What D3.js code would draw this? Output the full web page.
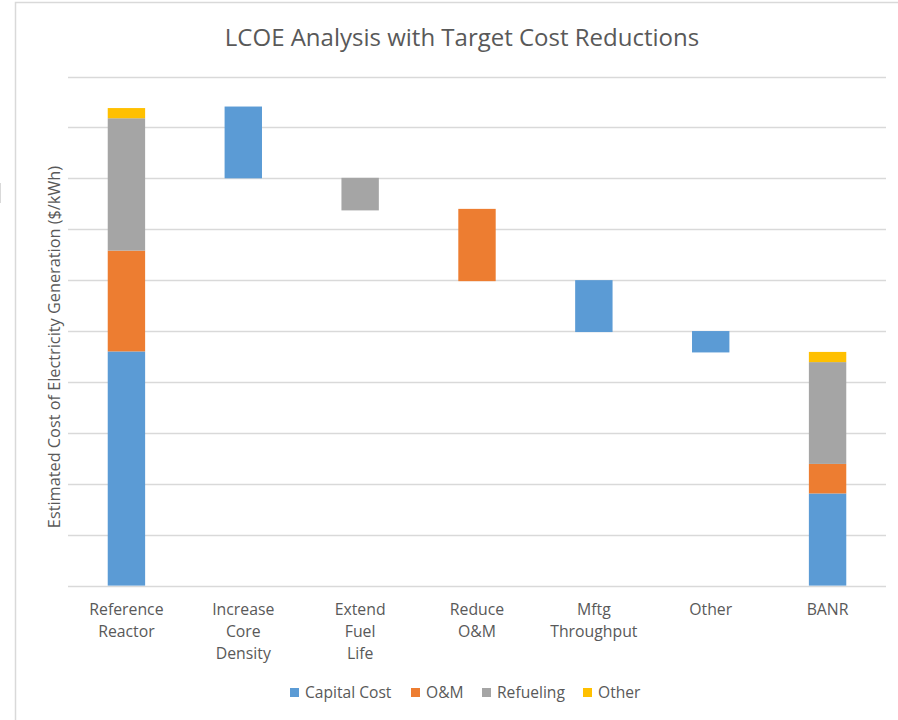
<!DOCTYPE html>
<html><head><meta charset="utf-8">
<script src="https://cdn.jsdelivr.net/npm/d3@7"></script>
<style>body{margin:0;background:#fff}svg{display:block}text{font-family:"Open Sans","Liberation Sans",sans-serif;fill:#595959}</style>
</head><body>
<svg id="c" width="898" height="720"></svg>
<script>
const categories = ["Reference\nReactor","Increase\nCore\nDensity","Extend\nFuel\nLife","Reduce\nO&M","Mftg\nThroughput","Other","BANR"];
const base      = [0, 8.0, 7.37, 5.98, 4.98, 4.58, 0];
const capital   = [4.6, 1.41, 0, 0, 1.02, 0.42, 1.81];
const om        = [1.98, 0, 0, 1.42, 0, 0, 0.58];
const refueling = [2.6, 0, 0.64, 0, 0, 0, 2.0];
const other     = [0.2, 0, 0, 0, 0, 0, 0.2];
const seriesNames = ["Capital Cost","O&M","Refueling","Other"];
const yTicks = [0,1,2,3,4,5,6,7,8,9,10];

const colors = {capital:"#5b9bd5", om:"#ed7d31", refueling:"#a5a5a5", other:"#ffc000"};
const keys = ["base","capital","om","refueling","other"];
const rows = categories.map((c,i)=>({cat:c, base:base[i], capital:capital[i], om:om[i], refueling:refueling[i], other:other[i]}));

const svg = d3.select("#c");
// outer chart border
svg.append("path").attr("d","M15.5,720 V2.5 H898").attr("fill","none").attr("stroke","#d9d9d9").attr("stroke-width",1.5);
svg.append("line").attr("x1",0.5).attr("x2",0.5).attr("y1",183).attr("y2",203).attr("stroke","#d9d9d9");

const x = d3.scaleBand().domain(categories).range([68,886]).paddingInner(0.68).paddingOuter(0.34);
const y = d3.scaleLinear().domain([0,10]).range([585.6,76.5]);

// gridlines
svg.append("g").selectAll("line").data(yTicks).join("line")
  .attr("x1",68).attr("x2",886).attr("y1",d=>Math.round(y(d))+0.5).attr("y2",d=>Math.round(y(d))+0.5)
  .attr("stroke","#d9d9d9").attr("stroke-width",1.3);

const stack = d3.stack().keys(keys)(rows);
svg.append("g").selectAll("g").data(stack.filter(s=>s.key!=="base")).join("g")
  .attr("fill",s=>colors[s.key])
  .selectAll("rect").data(s=>s.filter(d=>d[1]-d[0]>0)).join("rect")
  .attr("x",d=>x(d.data.cat)).attr("width",x.bandwidth())
  .attr("y",d=>y(d[1])).attr("height",d=>y(d[0])-y(d[1]));

// x axis labels
const xl = svg.append("g");
categories.forEach(c=>{
  const t = xl.append("text").attr("text-anchor","middle").attr("font-size",15.8)
    .attr("x",x(c)+x.bandwidth()/2).attr("y",615);
  c.split("\n").forEach((ln,j)=>t.append("tspan").attr("x",x(c)+x.bandwidth()/2).attr("dy",j?22:0).text(ln));
});

// title
svg.append("text").attr("x",462).attr("y",46).attr("text-anchor","middle").attr("font-size",24).text("LCOE Analysis with Target Cost Reductions");

// y title
svg.append("text").attr("transform","translate(60,347) rotate(-90)").attr("text-anchor","middle").attr("font-size",16.3)
  .text("Estimated Cost of Electricity Generation ($/kWh)");

// legend
const legX = [290,411,482,583];
const legKeys = ["capital","om","refueling","other"];
const lg = svg.append("g");
seriesNames.forEach((n,i)=>{
  lg.append("rect").attr("x",legX[i]).attr("y",688).attr("width",9).attr("height",9).attr("fill",colors[legKeys[i]]);
  lg.append("text").attr("x",legX[i]+15).attr("y",698).attr("font-size",15.6).text(n);
});
</script>
</body></html>
